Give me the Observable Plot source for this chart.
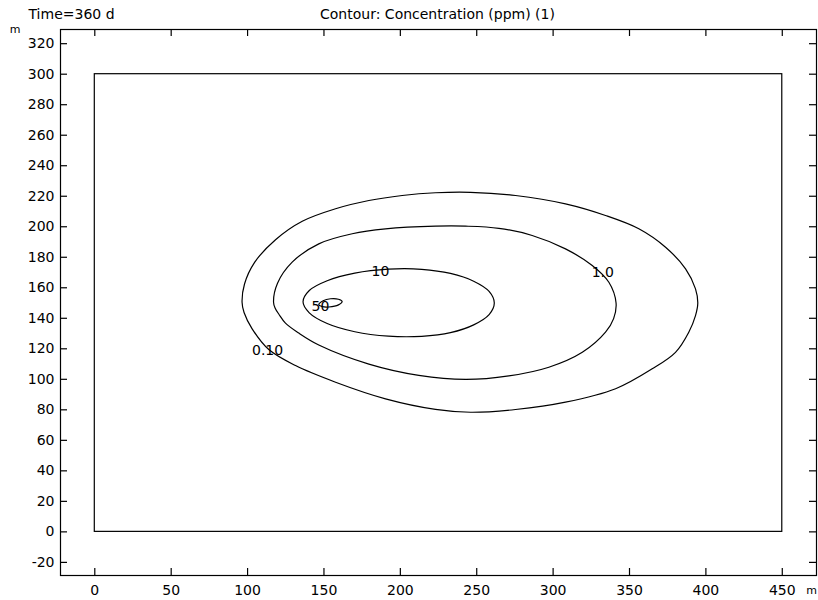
<!DOCTYPE html>
<html>
<head>
<meta charset="utf-8">
<script src="https://cdn.jsdelivr.net/npm/d3@7"></script>
<script src="https://cdn.jsdelivr.net/npm/@observablehq/plot@0.6"></script>
<style>
  html, body { margin: 0; padding: 0; background: white; }
</style>
</head>
<body>
<div id="chart"></div>
<script>
// ---- data ----
const titleLeft = "Time=360 d";
const titleCenter = "Contour: Concentration (ppm) (1)";
const xTicks = [0, 50, 100, 150, 200, 250, 300, 350, 400, 450];
const yTicks = [-20, 0, 20, 40, 60, 80, 100, 120, 140, 160, 180, 200, 220, 240, 260, 280, 300, 320];
const xDomain = [-22.45, 472.4];
const yDomain = [-28.6, 329.3];

// computational domain rectangle
const boxX = [0, 450];
const boxY = [0, 300];

// contour levels and their traced outlines
const levels = ["0.10", "1.0", "10", "50"];
const c010x = [96.4, 98.0, 104.5, 118.3, 135.8, 157.6, 179.4, 201.2, 223.0, 245.9, 275.4, 308.1, 334.3, 356.1, 373.6, 386.7, 393.2, 394.7, 393.2, 388.8, 380.1, 364.9, 340.9, 308.1, 275.4, 245.9, 223.0, 190.3, 157.6, 131.4, 113.9, 103.0, 97.7];
const c010y = [150.5, 162.5, 176.5, 191.5, 203.6, 211.8, 217.2, 220.5, 222.3, 222.6, 220.5, 215.0, 207.4, 198.7, 186.6, 172.4, 159.3, 150, 141.8, 130.9, 117.7, 106.9, 93.8, 85.0, 80.2, 78.4, 80.3, 87.2, 98.1, 109.0, 119.5, 133.1, 143.8];
const c1x = [117.0, 119.6, 129.2, 146.6, 168.5, 190.3, 223.0, 242.7, 264.5, 286.3, 308.1, 325.6, 336.5, 341.2, 339.6, 334.3, 319.1, 297.2, 271.0, 242.7, 212.1, 179.4, 146.6, 133.5, 124.8, 120.6, 118.0];
const c1y = [150.5, 163.0, 176.8, 188.8, 195.4, 198.6, 200.4, 200.4, 199.0, 194.3, 185.5, 174.6, 163.6, 150, 139.8, 130.9, 117.7, 107.9, 102.2, 99.9, 102.6, 110.0, 122.5, 130.3, 136.8, 142.5, 146.8];
const c10x = [261.5, 258.1, 248.0, 232.8, 214.0, 192.2, 170.2, 152.1, 140.4, 136.3, 140.4, 152.1, 170.2, 192.2, 214.0, 232.8, 248.0, 258.1];
const c10y = [150, 157.6, 164.3, 169.4, 172.1, 172.2, 169.6, 164.6, 158.2, 150.8, 143.6, 136.6, 131.2, 128.3, 128.2, 130.6, 135.7, 142.4];
const c50x = [146.6, 149.5, 154.3, 159.5, 161.9, 159.5, 153.2, 149.0];
const c50y = [149.0, 151.5, 152.8, 152.5, 151.1, 148.8, 147.4, 147.6];

// contour labels
const labelText = ["0.10", "1.0", "10", "50"];
const labelX = [113.1, 332.5, 187.0, 147.7];
const labelY = [119.2, 169.7, 170.9, 147.9];

// ---- build tables ----
const outlines = [[c010x, c010y], [c1x, c1y], [c10x, c10y], [c50x, c50y]];
const contourRows = outlines.flatMap(([xs, ys], i) => xs.map((x, j) => ({x, y: ys[j], level: levels[i]})));
const labelRows = labelText.map((t, i) => ({t, x: labelX[i], y: labelY[i]}));
const box = [{x1: boxX[0], x2: boxX[1], y1: boxY[0], y2: boxY[1]}];

const W = 818, H = 600, mL = 60, mR = 2, mT = 29, mB = 25;
const fw = W - mL - mR, fh = H - mT - mB;
const tick = 7;

const chart = Plot.plot({
  width: W,
  height: H,
  marginLeft: mL,
  marginRight: mR,
  marginTop: mT,
  marginBottom: mB,
  style: {fontFamily: "DejaVu Sans", fontSize: "14px", color: "black", background: "white"},
  x: {domain: xDomain},
  y: {domain: yDomain},
  marks: [
    Plot.frame({stroke: "black", strokeWidth: 1.2}),
    // inward ticks on all four sides
    Plot.tickX(xTicks, {x: d => d, stroke: "black", strokeWidth: 1.2, insetTop: fh - tick}),
    Plot.tickX(xTicks, {x: d => d, stroke: "black", strokeWidth: 1.2, insetBottom: fh - tick}),
    Plot.tickY(yTicks, {y: d => d, stroke: "black", strokeWidth: 1.2, insetRight: fw - tick}),
    Plot.tickY(yTicks, {y: d => d, stroke: "black", strokeWidth: 1.2, insetLeft: fw - tick}),
    Plot.axisX({ticks: xTicks, tickSize: 0, tickPadding: 10, tickFormat: d => String(d)}),
    Plot.axisY({ticks: yTicks, tickSize: 0, tickPadding: 6, tickFormat: d => String(d)}),
    // domain rectangle
    Plot.rect(box, {x1: "x1", x2: "x2", y1: "y1", y2: "y2", fill: "none", stroke: "black", strokeWidth: 1.2}),
    // contours
    Plot.line(contourRows, {x: "x", y: "y", z: "level", stroke: "black", strokeWidth: 1.2, curve: "catmull-rom-closed"}),
    Plot.text(labelRows, {x: "x", y: "y", text: "t", fill: "black", fontSize: 14}),
    // titles and unit labels
    Plot.text([titleLeft], {text: d => d, frameAnchor: "top-left", textAnchor: "start", lineAnchor: "bottom", dx: -32, dy: -11, fontSize: 14, fill: "black"}),
    Plot.text([titleCenter], {text: d => d, frameAnchor: "top", textAnchor: "middle", lineAnchor: "bottom", dx: -1, dy: -11, fontSize: 14, fill: "black"}),
    Plot.text(["m"], {text: d => d, frameAnchor: "top-left", textAnchor: "middle", lineAnchor: "bottom", dx: -45.5, dy: 3.5, fontSize: 11, fill: "black"}),
    Plot.text(["m"], {text: d => d, frameAnchor: "bottom-right", textAnchor: "middle", lineAnchor: "bottom", dx: -5, dy: 18.5, fontSize: 11, fill: "black"})
  ]
});
document.getElementById("chart").appendChild(chart);
</script>
</body>
</html>
